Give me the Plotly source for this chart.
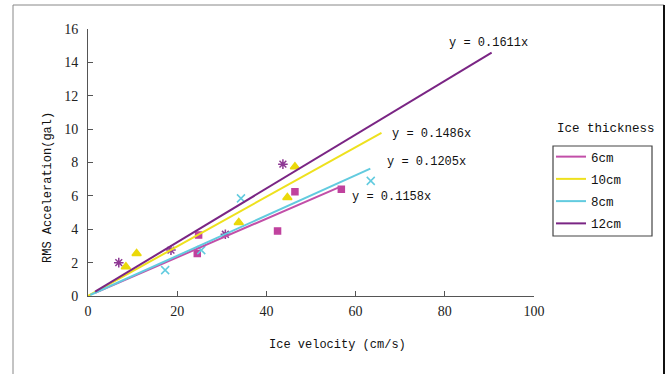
import plotly.graph_objects as go

# ---- data ----
series_names = ["6cm", "10cm", "8cm", "12cm"]
slopes = [0.1158, 0.1486, 0.1205, 0.1611]
trend_x_start = [1.6, 0.0, 0.5, 1.6]
trend_x_end = [56.5, 65.8, 63.3, 90.5]
fit_labels = ["y = 0.1158x", "y = 0.1486x", "y = 0.1205x", "y = 0.1611x"]
fit_label_x = [58.7, 67.7, 66.6, 80.5]
fit_label_y = [5.93, 9.7, 8.03, 15.16]

x_6cm = [24.5, 24.8, 42.5, 46.4, 56.8]
y_6cm = [2.55, 3.65, 3.9, 6.25, 6.4]
x_10cm = [8.5, 10.9, 33.8, 44.7, 46.4]
y_10cm = [1.75, 2.55, 4.4, 5.9, 7.75]
x_8cm = [17.3, 25.4, 34.3, 63.4]
y_8cm = [1.55, 2.75, 5.85, 6.9]
x_12cm = [6.9, 18.6, 30.8, 43.7]
y_12cm = [2.0, 2.75, 3.7, 7.9]

x_ticks = [0, 20, 40, 60, 80, 100]
y_ticks = [0, 2, 4, 6, 8, 10, 12, 14, 16]

line_colors = ["#C24FA8", "#EEE11E", "#62CBDF", "#7A2584"]
marker_colors = ["#C0429E", "#EBD90A", "#62CBDF", "#8E3894"]

FONT = "Liberation Mono"
SERIF = "Liberation Serif"

# plot area in pixels (page coords)
PL, PR, PT, PB = 88, 534, 29, 296
PW, PH = PR - PL, PB - PT


def px(xp):
    return (xp - PL) / PW


def py(yp):
    return (PB - yp) / PH


fig = go.Figure()

# markers (no legend)
pts = [(x_6cm, y_6cm, "square", 6), (x_10cm, y_10cm, "triangle-up", 8),
       (x_8cm, y_8cm, "x-thin-open", 8), (x_12cm, y_12cm, "asterisk-open", 8)]
for i, (xs, ys, sym, sz) in enumerate(pts):
    fig.add_trace(go.Scatter(
        x=xs, y=ys, mode="markers", showlegend=False, hoverinfo="skip",
        marker=dict(symbol=sym, size=sz, color=marker_colors[i],
                    line=dict(color=marker_colors[i], width=1.5)),
    ))

# trend lines (legend)
for i, name in enumerate(series_names):
    xs = [trend_x_start[i], trend_x_end[i]]
    ys = [slopes[i] * v for v in xs]
    fig.add_trace(go.Scatter(
        x=xs, y=ys, mode="lines", name=name, legendgroup=name, hoverinfo="skip",
        line=dict(color=line_colors[i], width=2),
    ))

# fit equation labels
for lab, lx, ly in zip(fit_labels, fit_label_x, fit_label_y):
    fig.add_annotation(x=lx, y=ly, text=lab, showarrow=False, xanchor="left",
                       yanchor="middle",
                       font=dict(family=FONT, size=12, color="#111"))

axis_common = dict(showgrid=False, zeroline=False, showline=True,
                   linecolor="#555", linewidth=1, ticks="inside", ticklen=5,
                   tickcolor="#555", tickfont=dict(family=SERIF, size=14, color="#222"))

fig.update_layout(
    width=669, height=374,
    margin=dict(l=PL, r=669 - PR, t=PT, b=374 - PB),
    paper_bgcolor="white", plot_bgcolor="white",
    xaxis=dict(range=[0, 100], tickvals=x_ticks, ticklabelstandoff=2, **axis_common),
    yaxis=dict(range=[0, 16], tickvals=y_ticks, ticklabelstandoff=6, **axis_common),
    legend=dict(x=px(551), y=py(142), xanchor="left", yanchor="top",
                borderwidth=0, bgcolor="rgba(0,0,0,0)",
                font=dict(family=FONT, size=12.5, color="#111"),
                traceorder="grouped", tracegroupgap=3, itemwidth=30),
    showlegend=True,
)

# axis titles and legend title
fig.add_annotation(xref="paper", yref="paper", x=px(337), y=py(345),
                   xanchor="center", yanchor="middle",
                   text="Ice velocity (cm/s)", showarrow=False,
                   font=dict(family=FONT, size=12, color="#111"))
fig.add_annotation(xref="paper", yref="paper", x=px(48), y=py(188),
                   xanchor="center", yanchor="middle",
                   text="RMS Acceleration(gal)", showarrow=False, textangle=-90,
                   font=dict(family=FONT, size=12, color="#111"))
fig.add_annotation(xref="paper", yref="paper", x=px(606), y=py(129),
                   xanchor="center", yanchor="middle",
                   text="Ice thickness", showarrow=False,
                   font=dict(family=FONT, size=12.5, color="#111"))

# legend box
fig.add_shape(type="rect", xref="paper", yref="paper",
              x0=px(553), x1=px(652), y0=py(236), y1=py(146),
              line=dict(color="#444", width=1.2), layer="below")

# outer frame
fig.add_shape(type="line", xref="paper", yref="paper",
              x0=px(13), x1=px(664), y0=py(5), y1=py(5),
              line=dict(color="#888", width=1))
fig.add_shape(type="line", xref="paper", yref="paper",
              x0=px(13), x1=px(13), y0=py(5), y1=py(380),
              line=dict(color="#888", width=1))
fig.add_shape(type="line", xref="paper", yref="paper",
              x0=px(664), x1=px(664), y0=py(5), y1=py(380),
              line=dict(color="#111", width=2))

fig.write_html(
    "out.html",
    config={"displayModeBar": False},
    post_script="document.body.style.margin='0';document.body.style.overflow='hidden';",
)
